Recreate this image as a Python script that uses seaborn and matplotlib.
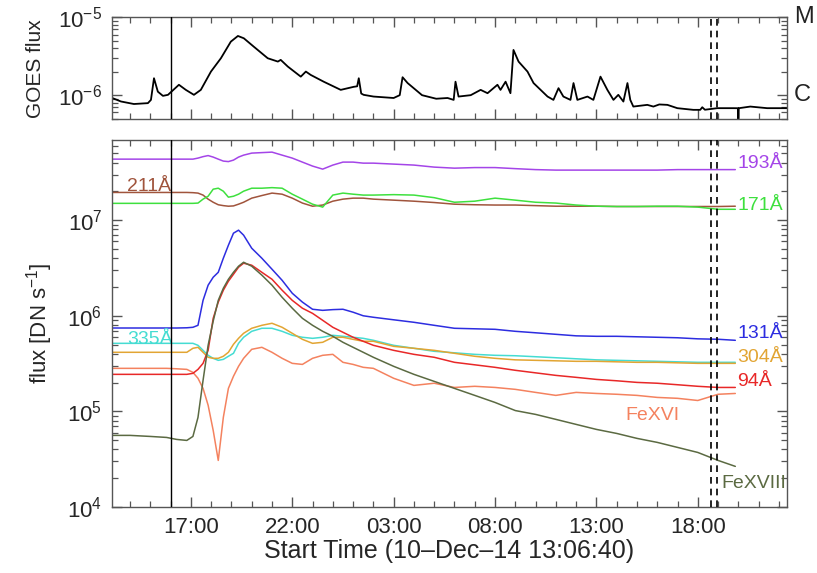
import matplotlib
matplotlib.use("Agg")
import matplotlib.pyplot as plt
import matplotlib.ticker as mticker
import matplotlib.transforms as mtransforms
import numpy as np
import pandas as pd
import seaborn as sns

# ---------------------------------------------------------------- data
# Time axis: hours counted from 10-Dec-14 00:00 UT
hours = [13.12, 14.0, 15.0, 15.8, 16.3, 16.8, 17.1, 17.35, 17.6, 17.85, 18.1, 18.35,
         18.6, 18.85, 19.1, 19.35, 19.6, 20.0, 20.5, 21.0, 21.5, 22.0, 22.5, 23.0,
         23.5, 24.0, 24.5, 25.0, 25.5, 26.0, 27.0, 28.0, 29.0, 30.0, 31.0, 32.0,
         33.0, 34.0, 35.0, 36.0, 37.0, 38.0, 39.0, 40.0, 41.0, 42.0, 43.0, 43.85]

flux_193 = [4.35e7, 4.35e7, 4.35e7, 4.35e7, 4.35e7, 4.35e7, 4.35e7, 4.46e7, 4.62e7, 4.74e7, 4.57e7, 4.35e7,
            4.15e7, 4.10e7, 4.25e7, 4.57e7, 4.79e7, 5.03e7, 5.09e7, 5.15e7, 4.79e7, 4.46e7, 4.05e7, 3.68e7,
            3.42e7, 3.77e7, 4.05e7, 4.05e7, 3.95e7, 3.95e7, 3.86e7, 3.77e7, 3.59e7, 3.50e7, 3.55e7, 3.55e7,
            3.46e7, 3.38e7, 3.34e7, 3.34e7, 3.34e7, 3.34e7, 3.34e7, 3.34e7, 3.38e7, 3.38e7, 3.38e7, 3.38e7]

flux_211 = [1.95e7, 1.95e7, 1.95e7, 1.95e7, 1.95e7, 1.95e7, 1.94e7, 1.92e7, 1.83e7, 1.66e7, 1.54e7, 1.45e7,
            1.42e7, 1.40e7, 1.41e7, 1.47e7, 1.54e7, 1.70e7, 1.81e7, 1.92e7, 1.87e7, 1.70e7, 1.51e7, 1.40e7,
            1.44e7, 1.58e7, 1.66e7, 1.70e7, 1.70e7, 1.66e7, 1.62e7, 1.58e7, 1.53e7, 1.47e7, 1.45e7, 1.44e7,
            1.44e7, 1.42e7, 1.40e7, 1.40e7, 1.40e7, 1.39e7, 1.39e7, 1.39e7, 1.39e7, 1.39e7, 1.39e7, 1.40e7]

flux_171 = [1.50e7, 1.50e7, 1.50e7, 1.50e7, 1.50e7, 1.50e7, 1.50e7, 1.51e7, 1.66e7, 1.78e7, 2.11e7, 2.16e7,
            2.01e7, 1.74e7, 1.78e7, 1.87e7, 2.01e7, 2.16e7, 2.16e7, 2.19e7, 2.16e7, 1.87e7, 1.66e7, 1.47e7,
            1.37e7, 1.83e7, 1.92e7, 1.87e7, 1.83e7, 1.83e7, 1.85e7, 1.83e7, 1.72e7, 1.54e7, 1.58e7, 1.70e7,
            1.62e7, 1.54e7, 1.51e7, 1.44e7, 1.40e7, 1.39e7, 1.39e7, 1.40e7, 1.40e7, 1.37e7, 1.30e7, 1.30e7]

flux_131 = [7.45e5, 7.45e5, 7.45e5, 7.45e5, 7.45e5, 7.49e5, 7.58e5, 7.95e5, 1.45e6, 2.09e6, 2.53e6, 2.85e6,
            4.00e6, 5.47e6, 7.31e6, 7.86e6, 6.97e6, 5.09e6, 4.00e6, 3.07e6, 2.35e6, 1.72e6, 1.39e6, 1.17e6,
            1.14e6, 1.16e6, 1.17e6, 1.09e6, 1.00e6, 9.65e5, 9.08e5, 8.55e5, 7.95e5, 7.40e5, 7.31e5, 7.22e5,
            6.88e5, 6.64e5, 6.40e5, 6.17e5, 6.10e5, 6.10e5, 6.03e5, 5.96e5, 5.89e5, 5.74e5, 5.68e5, 5.54e5]

flux_335 = [5.15e5, 5.15e5, 5.15e5, 5.15e5, 5.15e5, 5.15e5, 5.15e5, 4.91e5, 4.35e5, 3.86e5, 3.59e5, 3.42e5,
            3.50e5, 3.77e5, 4.05e5, 5.15e5, 5.96e5, 6.88e5, 7.40e5, 7.40e5, 6.88e5, 6.25e5, 5.96e5, 5.81e5,
            5.96e5, 6.25e5, 6.10e5, 5.96e5, 5.81e5, 5.54e5, 4.91e5, 4.57e5, 4.25e5, 4.10e5, 3.95e5, 3.86e5,
            3.82e5, 3.73e5, 3.64e5, 3.55e5, 3.46e5, 3.42e5, 3.38e5, 3.34e5, 3.30e5, 3.26e5, 3.26e5, 3.26e5]

flux_304 = [4.15e5, 4.15e5, 4.15e5, 4.15e5, 4.15e5, 4.15e5, 4.57e5, 4.68e5, 4.15e5, 3.68e5, 3.59e5, 3.59e5,
            3.77e5, 4.15e5, 5.03e5, 5.81e5, 6.56e5, 7.40e5, 7.95e5, 8.35e5, 7.58e5, 6.56e5, 5.67e5, 5.15e5,
            5.28e5, 5.96e5, 5.96e5, 5.67e5, 5.41e5, 5.41e5, 4.79e5, 4.57e5, 4.35e5, 4.05e5, 3.77e5, 3.59e5,
            3.46e5, 3.42e5, 3.38e5, 3.34e5, 3.34e5, 3.30e5, 3.26e5, 3.26e5, 3.22e5, 3.18e5, 3.18e5, 3.18e5]

flux_94 = [2.44e5, 2.44e5, 2.44e5, 2.44e5, 2.44e5, 2.44e5, 2.50e5, 2.75e5, 3.18e5, 4.35e5, 9.40e5, 1.39e6,
           1.85e6, 2.30e6, 2.72e6, 3.22e6, 3.55e6, 3.38e6, 2.85e6, 2.41e6, 1.85e6, 1.45e6, 1.20e6, 1.06e6,
           8.97e5, 7.58e5, 6.72e5, 5.96e5, 5.41e5, 4.91e5, 4.35e5, 3.95e5, 3.68e5, 3.26e5, 3.07e5, 2.89e5,
           2.69e5, 2.53e5, 2.38e5, 2.27e5, 2.16e5, 2.09e5, 2.01e5, 1.97e5, 1.90e5, 1.83e5, 1.78e5, 1.78e5]

flux_fe16 = [2.82e5, 2.82e5, 2.82e5, 2.82e5, 2.79e5, 2.75e5, 2.56e5, 2.22e5, 1.74e5, 1.16e5, 6.33e4, 3.07e4,
             8.65e4, 1.74e5, 2.33e5, 2.96e5, 3.59e5, 4.46e5, 4.68e5, 4.15e5, 3.59e5, 3.18e5, 3.10e5, 3.59e5,
             3.86e5, 3.95e5, 3.26e5, 3.10e5, 2.89e5, 2.82e5, 2.22e5, 1.87e5, 1.97e5, 1.78e5, 1.83e5, 1.78e5,
             1.70e5, 1.58e5, 1.47e5, 1.58e5, 1.54e5, 1.51e5, 1.47e5, 1.40e5, 1.37e5, 1.30e5, 1.51e5, 1.54e5]

flux_fe18 = [5.61e4, 5.61e4, 5.47e4, 5.34e4, 5.09e4, 4.97e4, 5.47e4, 8.65e4, 2.11e5, 4.91e5, 8.80e5, 1.45e6,
             1.94e6, 2.41e6, 2.85e6, 3.30e6, 3.63e6, 3.30e6, 2.66e6, 2.09e6, 1.56e6, 1.20e6, 9.41e5, 7.95e5,
             6.88e5, 6.10e5, 5.28e5, 4.68e5, 4.15e5, 3.68e5, 2.96e5, 2.44e5, 2.06e5, 1.74e5, 1.47e5, 1.24e5,
             1.02e5, 9.30e4, 8.25e4, 7.31e4, 6.48e4, 5.88e4, 5.22e4, 4.74e4, 4.20e4, 3.72e4, 3.07e4, 2.66e4]

# GOES 1-8 Angstrom flux (W m^-2)
goes_hours = [13.12, 13.55, 14.19, 14.88, 15.03, 15.18, 15.37, 15.62, 15.87, 16.41, 16.75, 17.15,
              17.49, 17.99, 18.48, 18.97, 19.32, 19.61, 20.10, 20.79, 21.29, 21.43, 21.78, 22.42,
              22.67, 22.91, 23.55, 24.39, 25.03, 25.20, 25.28, 25.40, 25.52, 26.01, 27.00, 27.30,
              27.44, 27.69, 28.40, 29.10, 29.66, 29.96, 30.05, 30.20, 30.80, 31.29, 31.63, 32.12,
              32.27, 32.52, 32.76, 32.91, 33.16, 33.60, 33.90, 34.59, 34.88, 35.13, 35.37, 35.72,
              35.87, 36.06, 36.56, 36.85, 37.20, 37.54, 37.84, 38.08, 38.33, 38.53, 38.67, 38.82,
              39.51, 39.81, 40.10, 40.50, 40.99, 41.78, 42.12, 42.22, 42.35, 42.96, 43.75, 43.98,
              44.00, 44.02, 44.59, 45.42, 46.40]
goes_flux = [9.2e-7, 8.3e-7, 7.7e-7, 7.9e-7, 8.7e-7, 1.65e-6, 1.11e-6, 9.8e-7, 1.01e-6, 1.36e-6, 1.17e-6, 1.01e-6,
             1.17e-6, 2.01e-6, 2.98e-6, 4.87e-6, 5.76e-6, 5.38e-6, 4.2e-6, 2.98e-6, 2.70e-6, 2.84e-6, 2.33e-6, 1.73e-6,
             2.01e-6, 1.82e-6, 1.49e-6, 1.17e-6, 1.28e-6, 1.30e-6, 1.65e-6, 1.05e-6, 1.01e-6, 9.6e-7, 9.2e-7, 1.0e-6,
             1.7e-6, 1.43e-6, 1.0e-6, 9.0e-7, 9.2e-7, 8.7e-7, 1.49e-6, 9.6e-7, 1.0e-6, 1.17e-6, 1.06e-6, 1.36e-6,
             1.17e-6, 1.49e-6, 1.06e-6, 3.81e-6, 2.70e-6, 2.01e-6, 1.43e-6, 9.6e-7, 8.7e-7, 1.23e-6, 9.6e-7, 8.7e-7,
             1.43e-6, 8.7e-7, 9.6e-7, 8.7e-7, 1.73e-6, 1.17e-6, 8.7e-7, 1.01e-6, 8.28e-7, 1.43e-6, 8.7e-7, 7.14e-7,
             7.51e-7, 7.14e-7, 7.6e-7, 7.51e-7, 6.81e-7, 6.48e-7, 6.48e-7, 7.0e-7, 6.5e-7, 6.81e-7, 6.81e-7, 6.8e-7,
             3.0e-7, 6.8e-7, 7.14e-7, 6.81e-7, 6.81e-7]

tick_hours = [17, 22, 27, 32, 37, 42]
tick_labels = ["17:00", "22:00", "03:00", "08:00", "13:00", "18:00"]
flare_onset = 16.0
window_hours = [42.65, 42.95]
goes_classes = [("M", 1e-5), ("C", 1e-6)]

channels = ["193Å", "211Å", "171Å", "335Å", "304Å", "FeXVI", "131Å", "94Å", "FeXVIII"]
series = [flux_193, flux_211, flux_171, flux_335, flux_304, flux_fe16, flux_131, flux_94, flux_fe18]
palette = {
    "193Å": "#a445e8",
    "211Å": "#a0543c",
    "171Å": "#3ee03e",
    "131Å": "#2d2de0",
    "335Å": "#45dcd2",
    "304Å": "#e2a533",
    "94Å": "#e82828",
    "FeXVI": "#f4825f",
    "FeXVIII": "#5b6a42",
}

# channel name, time, flux of the in-plot labels
label_spots = [
    ("193Å", 43.95, 3.95e7),
    ("171Å", 43.95, 1.44e7),
    ("131Å", 43.95, 6.56e5),
    ("304Å", 43.95, 3.68e5),
    ("94Å", 43.95, 2.06e5),
    ("FeXVI", 38.45, 9.08e4),
    ("FeXVIII", 43.15, 1.77e4),
    ("211Å", 13.85, 2.23e7),
    ("335Å", 13.85, 5.68e5),
]

euv = pd.DataFrame({
    "hour": np.tile(hours, len(channels)),
    "flux": np.concatenate(series),
    "channel": np.repeat(channels, len(hours)),
})
goes = pd.DataFrame({"hour": goes_hours, "flux": goes_flux})

# ---------------------------------------------------------------- style
sns.set_theme(style="ticks")
plt.rcParams["font.family"] = ["Liberation Sans", "DejaVu Sans"]
plt.rcParams["mathtext.default"] = "regular"
plt.rcParams["axes.edgecolor"] = "#555555"
plt.rcParams["axes.linewidth"] = 1.0

fig = plt.figure(figsize=(8.17, 5.73), dpi=100)
ax_goes = fig.add_axes([0.1371, 0.7918, 0.8262, 0.1780])
ax_euv = fig.add_axes([0.1371, 0.1152, 0.8262, 0.6405])

for ax in (ax_goes, ax_euv):
    ax.set_yscale("log")
    ax.set_xlim(13.11, 46.4)

# GOES panel
sns.lineplot(data=goes, x="hour", y="flux", color="black", lw=1.3,
             estimator=None, sort=False, ax=ax_goes)
ax_goes.set_ylim(4.9e-7, 1e-5)
ax_goes.set_xlabel("")
ax_goes.set_ylabel("GOES flux", fontsize=15)
ax_goes.yaxis.set_label_coords(-0.10, 0.5)
side = mtransforms.blended_transform_factory(ax_goes.transAxes, ax_goes.transData)
for name, level in goes_classes:
    ax_goes.text(1.010, level, name, transform=side, ha="left", va="center",
                 fontsize=17, color="#222222")

# EUV panel
sns.lineplot(data=euv, x="hour", y="flux", hue="channel", hue_order=channels,
             palette=palette, lw=1.1, estimator=None, sort=False, legend=False,
             ax=ax_euv)
ax_euv.set_ylim(1e4, 6.9e7)
ax_euv.set_xlabel("Start Time (10–Dec–14 13:06:40)", fontsize=18, labelpad=1)
ax_euv.set_ylabel("flux [DN s$^{-1}$]", fontsize=16)
ax_euv.yaxis.set_label_coords(-0.085, 0.5)

for name, t, f in label_spots:
    ax_euv.text(t, f, name, color=palette[name], fontsize=14, ha="left", va="center",
                clip_on=True)

# IDL-style frame: inward ticks on all four sides, hourly minor ticks
for ax in (ax_goes, ax_euv):
    ax.xaxis.set_major_locator(mticker.FixedLocator(tick_hours))
    ax.xaxis.set_minor_locator(mticker.MultipleLocator(1))
    ax.yaxis.set_major_locator(mticker.LogLocator(base=10, numticks=10))
    ax.yaxis.set_minor_locator(mticker.LogLocator(base=10, subs=np.arange(2, 10), numticks=20))
    ax.yaxis.set_minor_formatter(mticker.NullFormatter())
    ax.tick_params(which="both", direction="in", top=True, right=True,
                   bottom=True, left=True, color="#555555", labelsize=16, pad=7)
    ax.tick_params(which="major", length=7, width=1.0)
    ax.tick_params(which="minor", length=4.5, width=0.9)
    ax.axvline(flare_onset, color="black", lw=1.0, zorder=5)
    for h in window_hours:
        ax.axvline(h, color="black", lw=1.2, ls=(0, (4, 3)), zorder=5)

ax_goes.xaxis.set_major_formatter(mticker.NullFormatter())
ax_euv.xaxis.set_major_formatter(mticker.FixedFormatter(tick_labels))

fig.savefig("out.png", dpi=100)
